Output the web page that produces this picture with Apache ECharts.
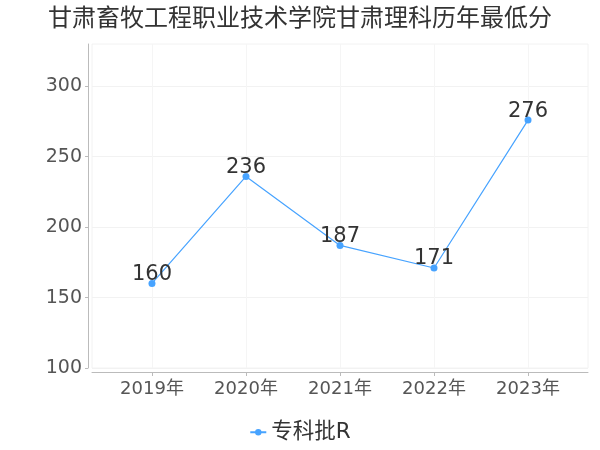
<!DOCTYPE html>
<html><head><meta charset="utf-8">
<script src="https://cdn.jsdelivr.net/npm/echarts@6/dist/echarts.min.js"></script>
<style>html,body{margin:0;padding:0;}#c{width:600px;height:450px;}</style>
</head><body><div id="c"></div>
<script>
const years = [2019, 2020, 2021, 2022, 2023];
const scores = [160, 236, 187, 171, 276];
const yTicks = [100, 150, 200, 250, 300];
const seriesName = '专科批R';
const titleText = '甘肃畜牧工程职业技术学院甘肃理科历年最低分';

const chart = echarts.init(document.getElementById('c'));
const font = '"DejaVu Sans", "Noto Sans CJK SC", sans-serif';
chart.setOption({
  animation: false,
  title: { text: titleText, left: 'center', top: 3,
    textStyle: { fontSize: 24, fontWeight: 'normal', color: '#333', fontFamily: font } },
  legend: { bottom: 2, left: 'center', itemWidth: 16, itemHeight: 8, itemGap: 4,
    textStyle: { fontSize: 21.5, color: '#333', fontFamily: font },
    data: [seriesName] },
  grid: { left: 92, right: 12, top: 44, bottom: 82, show: true, borderColor: '#f2f2f2', borderWidth: 1 },
  xAxis: {
    type: 'value', min: 2018.362, max: 2023.638, offset: 4,
    axisLine: { lineStyle: { color: '#bbb' } },
    axisTick: { show: true, length: 4, lineStyle: { color: '#bbb' }, customValues: years },
    axisLabel: { customValues: years, fontSize: 18, color: '#555', margin: 8, fontFamily: font,
      formatter: v => v + '年' },
    splitLine: { show: true, lineStyle: { color: '#f5f5f5' } }
  },
  yAxis: {
    type: 'value', min: 100, max: 330, offset: 4,
    axisLine: { show: true, lineStyle: { color: '#bbb' } },
    axisTick: { show: true, length: 3, lineStyle: { color: '#bbb' }, customValues: yTicks },
    axisLabel: { customValues: yTicks, fontSize: 19, color: '#555', margin: 6, fontFamily: font },
    splitLine: { show: true, lineStyle: { color: '#f2f2f2' } }
  },
  series: [{
    name: seriesName, type: 'line',
    data: years.map((y, i) => [y, scores[i]]),
    symbol: 'circle', symbolSize: 7,
    itemStyle: { color: '#47a3ff' },
    lineStyle: { width: 1.2, color: '#47a3ff' },
    label: { show: true, position: 'top', distance: -5, fontSize: 21, color: '#333', fontFamily: font }
  }]
});
</script></body></html>
